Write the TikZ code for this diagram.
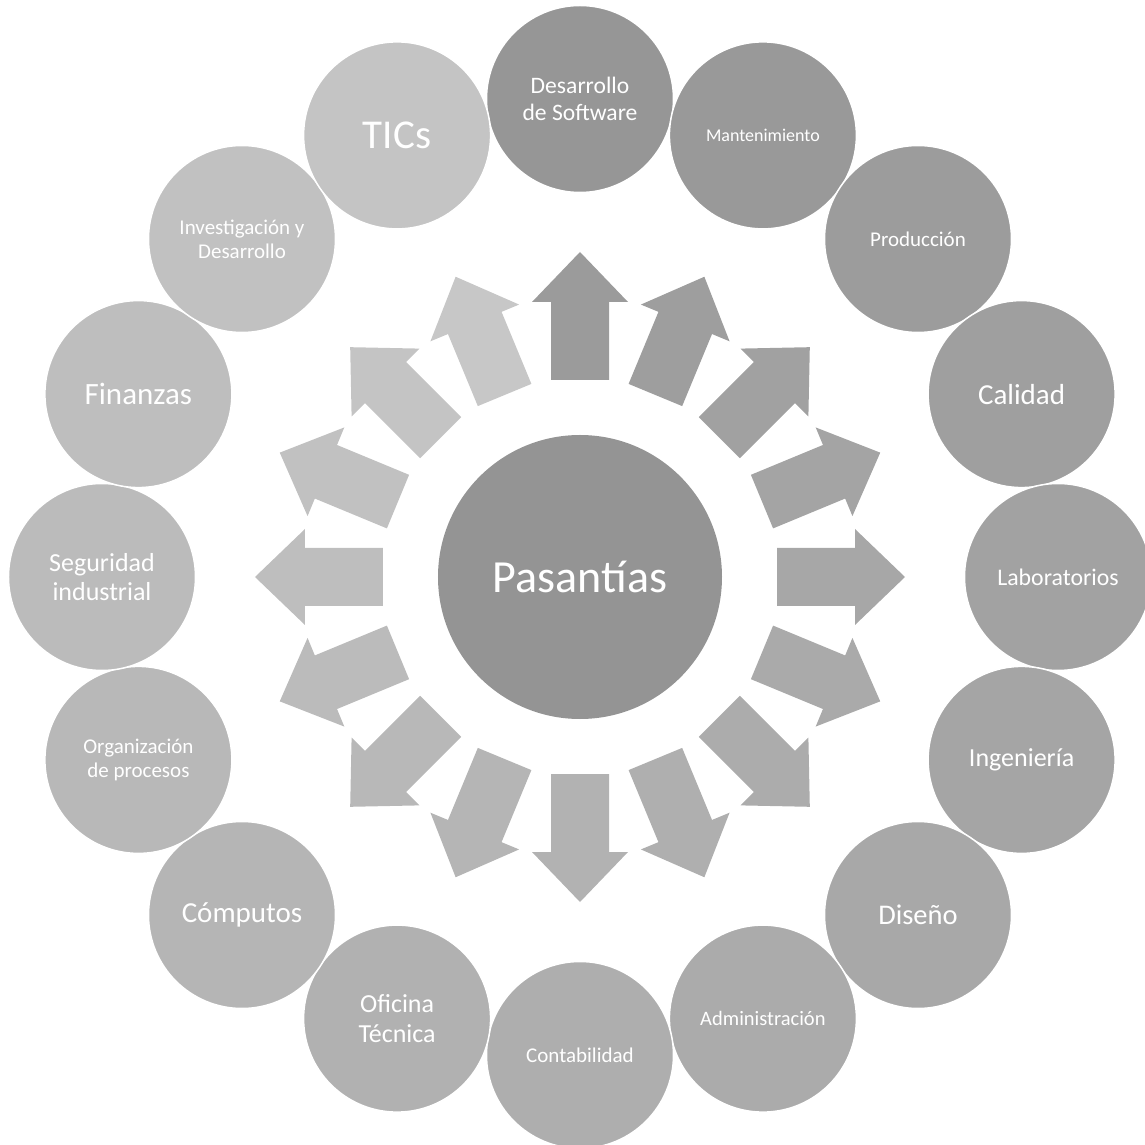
\documentclass[tikz,border=0pt]{standalone}
\usepackage{fontspec}
\setmainfont{Carlito}
\newcommand{\fsz}[2]{\fontsize{#1}{#2}\selectfont}
\begin{document}
\begin{tikzpicture}[x=1pt,y=1pt,
  outer/.style={circle, minimum size=187pt, inner sep=0pt, draw=white, line width=1.5pt, text=white, align=center},
  hub/.style={circle, minimum size=284pt, inner sep=0pt, text=white, fill=black!42}]
\useasboundingbox (-580,-568) rectangle (565,577);
% arrows
\foreach \i in {0,...,15}{
  \pgfmathsetmacro\ap{39.2-1.14*\i}
  \begin{scope}[rotate={90-22.5*\i}]
    \fill[black!\ap] (197,-29) -- (275,-29) -- (275,-48) -- (325,0) -- (275,48) -- (275,29) -- (197,29) -- cycle;
  \end{scope}
}
% center
\node[hub, font=\fsz{46}{52}] (hub) at (0,0) {Pasantías};
% outer circles
\node[outer, fill=black!41.2, font=\fsz{23.6}{27}] (n0)  at ({90-22.5*0}:478)  {Desarrollo\\de Software};
\node[outer, fill=black!40.0, font=\fsz{18}{21}]   (n1)  at ({90-22.5*1}:478)  {Mantenimiento};
\node[outer, fill=black!38.8, font=\fsz{21}{24}]   (n2)  at ({90-22.5*2}:478)  {Producción};
\node[outer, fill=black!37.6, font=\fsz{29}{33}]   (n3)  at ({90-22.5*3}:478)  {Calidad};
\node[outer, fill=black!36.4, font=\fsz{23.8}{27}] (n4)  at ({90-22.5*4}:478)  {Laboratorios};
\node[outer, fill=black!35.2, font=\fsz{26}{30}]   (n5)  at ({90-22.5*5}:478)  {Ingeniería};
\node[outer, fill=black!34.0, font=\fsz{28.5}{32}] (n6)  at ({90-22.5*6}:478)  {Diseño};
\node[outer, fill=black!32.8, font=\fsz{20.5}{24}] (n7)  at ({90-22.5*7}:478)  {Administración};
\node[outer, fill=black!31.6, font=\fsz{21}{24}]   (n8)  at ({90-22.5*8}:478)  {Contabilidad};
\node[outer, fill=black!30.4, font=\fsz{26}{30}]   (n9)  at ({90-22.5*9}:478)  {Oficina\\Técnica};
\node[outer, fill=black!29.2, font=\fsz{29}{33}]   (n10) at ({90-22.5*10}:478) {Cómputos};
\node[outer, fill=black!28.0, font=\fsz{21}{23.5}] (n11) at ({90-22.5*11}:478) {Organización\\de procesos};
\node[outer, fill=black!26.8, font=\fsz{26}{28.5}] (n12) at ({90-22.5*12}:478) {Seguridad\\industrial};
\node[outer, fill=black!25.6, font=\fsz{31}{35}]   (n13) at ({90-22.5*13}:478) {Finanzas};
\node[outer, fill=black!24.4, font=\fsz{21}{24}]   (n14) at ({90-22.5*14}:478) {Investigación y\\Desarrollo};
\node[outer, fill=black!23.2, font=\fsz{41}{46}]   (n15) at ({90-22.5*15}:478) {TICs};
\end{tikzpicture}
\end{document}
